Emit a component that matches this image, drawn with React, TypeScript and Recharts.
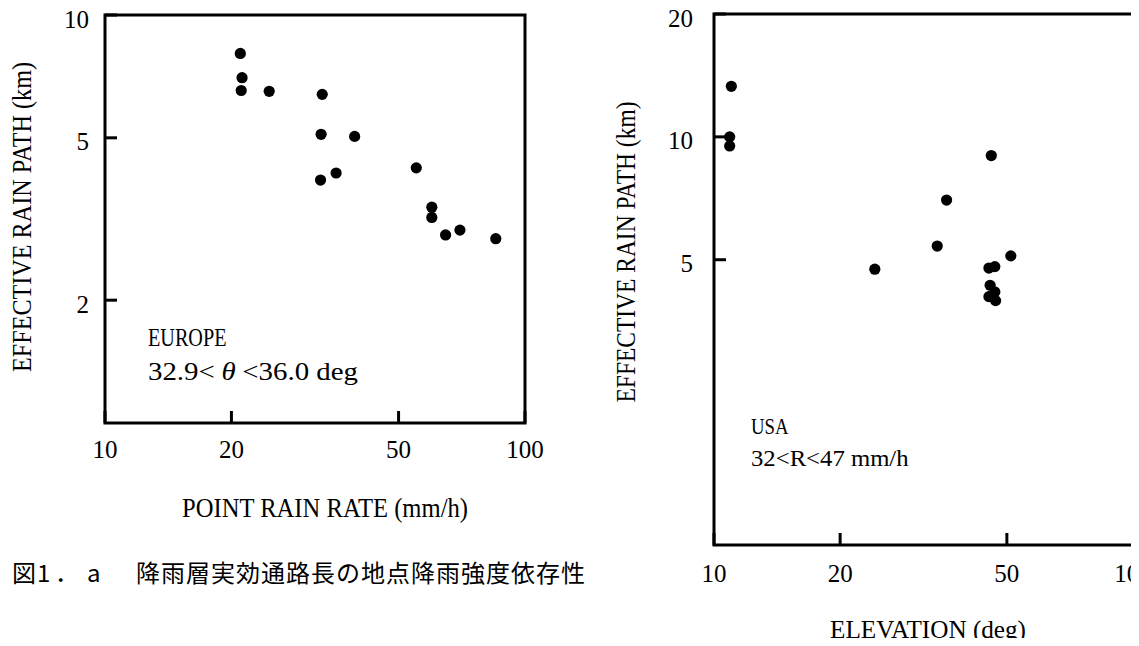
import React from 'react';
import { ScatterChart, Scatter, XAxis, YAxis, ReferenceArea } from 'recharts';

const SERIF = '"Liberation Serif", "DejaVu Serif", serif';
const CJK = '"Noto Sans CJK JP", "Noto Sans CJK SC", sans-serif';

// Left panel: EUROPE, effective rain path vs point rain rate
const euroRainRate = [21.0, 21.2, 21.1, 24.6, 32.9, 32.7, 39.3, 32.6, 35.5, 55.1, 60.0, 60.0, 64.7, 70.0, 85.2];
const euroPath = [8.05, 7.02, 6.53, 6.5, 6.39, 5.1, 5.04, 3.94, 4.1, 4.22, 3.38, 3.19, 2.89, 2.97, 2.83];

// Right panel: USA, effective rain path vs elevation
const usaElevation = [11.0, 10.9, 10.9, 45.9, 35.9, 34.1, 24.2, 51.1, 45.3, 46.8, 45.6, 46.8, 45.3, 47.0];
const usaPath = [13.3, 10.0, 9.5, 9.0, 7.0, 5.4, 4.74, 5.11, 4.77, 4.81, 4.33, 4.17, 4.06, 3.97];

const xTicks = [10, 20, 50, 100];
const euroYTicks = [2, 5, 10];
const usaYTicks = [5, 10, 20];
const euroXDomain = [10, 100];
const euroYDomain = [1, 10];
const usaXDomain = [10, 100];
const usaYDomain = [1, 20];

const euroData = euroRainRate.map((x, i) => ({ x, y: euroPath[i] }));
const usaData = usaElevation.map((x, i) => ({ x, y: usaPath[i] }));

const Dot = (p: any) => <circle cx={p.cx} cy={p.cy} r={5.6} fill="#000" />;

const makeXTick = (labelDy: number) => (p: any) => (
  <g>
    <line x1={p.x} y1={p.y} x2={p.x} y2={p.y - 12} stroke="#000" strokeWidth={3} />
    <text x={p.x} y={p.y + labelDy} textAnchor="middle" fontFamily={SERIF} fontSize={25} fill="#000">
      {p.payload.value}
    </text>
  </g>
);

const makeYTick = (labelDx: number) => (p: any) => (
  <g>
    <line x1={p.x} y1={p.y} x2={p.x + 12} y2={p.y} stroke="#000" strokeWidth={3} />
    <text x={p.x - labelDx} y={p.y + 12.5} textAnchor="end" fontFamily={SERIF} fontSize={25} fill="#000">
      {p.payload.value}
    </text>
  </g>
);

const HText = ({ x, y, len, size, anchor = 'middle', children }: any) => (
  <text
    x={x}
    y={y}
    textAnchor={anchor}
    fontFamily={SERIF}
    fontSize={size}
    fill="#000"
    textLength={len}
    lengthAdjust="spacingAndGlyphs"
  >
    {children}
  </text>
);

const VText = ({ cx, cy, len, size, children }: any) => (
  <text
    x={cx}
    y={cy + size * 0.331}
    textAnchor="middle"
    fontFamily={SERIF}
    fontSize={size}
    fill="#000"
    textLength={len}
    lengthAdjust="spacingAndGlyphs"
    transform={`rotate(-90 ${cx} ${cy})`}
  >
    {children}
  </text>
);

const euroNotes = () => (
  <g>
    <HText x={148} y={337 + 8.6} len={78.5} size={26} anchor="start">EUROPE</HText>
    <text
      x={148}
      y={371 + 8.6}
      textAnchor="start"
      fontFamily={SERIF}
      fontSize={26}
      fill="#000"
      textLength={210}
      lengthAdjust="spacingAndGlyphs"
    >
      32.9&lt;<tspan dx={6} fontStyle="italic">θ</tspan>
      <tspan dx={6}>&lt;36.0 deg</tspan>
    </text>
  </g>
);

const usaNotes = () => (
  <g>
    <HText x={171} y={426 + 7.9} len={37.6} size={24} anchor="start">USA</HText>
    <HText x={171} y={458 + 7.9} len={157.6} size={24} anchor="start">32&lt;R&lt;47 mm/h</HText>
  </g>
);

function EuropeChart() {
  return (
    <ScatterChart width={560} height={530} margin={{ top: 15, right: 35, bottom: 47, left: 45 }}>
      <XAxis
        type="number"
        dataKey="x"
        scale="log"
        domain={euroXDomain}
        ticks={xTicks}
        interval={0}
        allowDataOverflow
        axisLine={false}
        tickLine={false}
        tickSize={0}
        tickMargin={0}
        height={60}
        tick={makeXTick(35.3)}
      />
      <YAxis
        type="number"
        dataKey="y"
        scale="log"
        domain={euroYDomain}
        ticks={euroYTicks}
        interval={0}
        allowDataOverflow
        axisLine={false}
        tickLine={false}
        tickSize={0}
        tickMargin={0}
        width={60}
        tick={makeYTick(16)}
      />
      <ReferenceArea
        x1={10}
        x2={100}
        y1={1}
        y2={10}
        fill="none"
        stroke="#000"
        strokeWidth={3}
        ifOverflow="visible"
        label={euroNotes}
      />
      <Scatter data={euroData} fill="#000" shape={Dot} isAnimationActive={false} />
    </ScatterChart>
  );
}

function UsaChart() {
  return (
    <ScatterChart width={559} height={646} margin={{ top: 14, right: 6, bottom: 41, left: 74 }}>
      <XAxis
        type="number"
        dataKey="x"
        scale="log"
        domain={usaXDomain}
        ticks={xTicks}
        interval={0}
        allowDataOverflow
        axisLine={false}
        tickLine={false}
        tickSize={0}
        tickMargin={0}
        height={60}
        tick={makeXTick(37.3)}
      />
      <YAxis
        type="number"
        dataKey="y"
        scale="log"
        domain={usaYDomain}
        ticks={usaYTicks}
        interval={0}
        allowDataOverflow
        axisLine={false}
        tickLine={false}
        tickSize={0}
        tickMargin={0}
        width={60}
        tick={makeYTick(21)}
      />
      <ReferenceArea
        x1={10}
        x2={100}
        y1={1}
        y2={20}
        fill="none"
        stroke="#000"
        strokeWidth={3}
        ifOverflow="visible"
        label={usaNotes}
      />
      <Scatter data={usaData} fill="#000" shape={Dot} isAnimationActive={false} />
    </ScatterChart>
  );
}

export default function App() {
  return (
    <div style={{ position: 'relative', width: 1139, height: 646, margin: -8, background: '#fff', overflow: 'hidden' }}>
      <div style={{ position: 'absolute', left: 0, top: 0 }}>
        <EuropeChart />
      </div>
      <div style={{ position: 'absolute', left: 580, top: 0 }}>
        <UsaChart />
      </div>
      <svg width={1139} height={646} style={{ position: 'absolute', left: 0, top: 0, pointerEvents: 'none' }}>
        <VText cx={22} cy={217} len={310} size={27}>EFFECTIVE RAIN PATH (km)</VText>
        <HText x={325} y={508 + 8.9} len={286} size={27}>POINT RAIN RATE (mm/h)</HText>
        <VText cx={626} cy={252} len={301} size={27}>EFFECTIVE RAIN PATH (km)</VText>
        <HText x={928} y={629 + 8.6} len={196} size={26}>ELEVATION (deg)</HText>
      </svg>
      <div
        style={{
          position: 'absolute',
          left: 12,
          top: 560,
          fontFamily: CJK,
          fontSize: 24,
          lineHeight: '24px',
          whiteSpace: 'nowrap',
          color: '#000',
        }}
      >
        <span style={{ display: 'inline-block', width: 25 }}>図</span>
        <span style={{ display: 'inline-block', width: 18 }}>1</span>
        <span style={{ display: 'inline-block', width: 32 }}>．</span>
        <span style={{ display: 'inline-block', width: 49 }}>a</span>
        <span style={{ letterSpacing: 1.0 }}>降雨層実効通路長の地点降雨強度依存性</span>
      </div>
    </div>
  );
}
